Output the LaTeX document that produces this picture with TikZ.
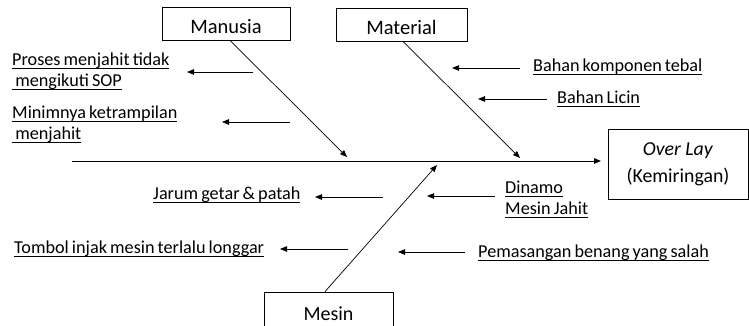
\documentclass[tikz,border=0pt]{standalone}
\usepackage{fontspec}
\setmainfont{Carlito}
\usetikzlibrary{arrows.meta}
\newcommand\ulx[1]{\setbox0=\hbox{#1}\rlap{\rule[-3.4pt]{\wd0}{0.7pt}}\box0}
\newcommand\lbl[1]{\begin{tabular}[t]{@{}l@{}}#1\end{tabular}}
\newcommand\causefont{\fontsize{18.2}{21.5}\selectfont\spaceskip=0.17em\relax}
\begin{document}
\begin{tikzpicture}[x=1pt,y=-1pt,
  catbox/.style={draw,line width=0.8pt,minimum width=#1,minimum height=33pt,inner sep=0pt,
    text height=19pt,text depth=0pt,font=\fontsize{20.5}{22}\selectfont},
  cause/.style={anchor=base west,inner sep=0pt,font=\causefont},
  tip/.style={-{Triangle[length=7pt,width=5.5pt]}},
  bone/.style={line width=0.7pt,tip},
  small/.style={line width=0.8pt,tip}]
\useasboundingbox (0,0) rectangle (749,325);
\clip (0,0) rectangle (749,325);
% category boxes
\node[catbox=128pt] (man) at (226,23.5) {Manusia};
\node[catbox=131pt] (mat) at (401.5,24.5) {Material};
\node[catbox=129pt,minimum height=40pt] (mes) at (328.5,312) {};
\node[anchor=base,inner sep=0pt,font=\fontsize{20}{22}\selectfont] (mest) at (328.5,320) {Mesin};
% effect
\node[draw,line width=0.8pt,minimum width=140pt,minimum height=70pt,inner sep=0pt,align=center,
  font=\fontsize{19.8}{27}\selectfont] (eff) at (678,164) {\raisebox{-2pt}{\begin{tabular}{@{}c@{}}\textit{Over Lay}\\(Kemiringan)\end{tabular}}};
% spine
\coordinate (sp0) at (72,161);
\coordinate (sp1) at (601,161);
\coordinate (tman) at (347,157);
\coordinate (tmat) at (520,158);
\coordinate (tmes) at (437,165);
\draw[line width=0.9pt,tip] (sp0) -- (sp1);
\draw[bone] (man.south -| 230,0) -- (tman);
\draw[bone] (mat.south -| 403,0) -- (tmat);
\draw[bone] (mes.north -| 325,0) -- (tmes);
% causes
\node[cause] (c1) at (12,65) {\lbl{\ulx{Proses menjahit tidak}\\\ulx{\ mengikuti SOP}}};
\node[cause] (c2) at (12,118) {\lbl{\ulx{Minimnya ketrampilan}\\\ulx{\ menjahit}}};
\node[cause] (c3) at (533,71) {\ulx{Bahan komponen tebal}};
\node[cause] (c4) at (557,103) {\ulx{Bahan Licin}};
\node[cause] (c5) at (153,199) {\ulx{Jarum getar \& patah}};
\node[cause] (c6) at (14,253) {\ulx{Tombol injak mesin terlalu longgar}};
\node[cause] (c7) at (505,193) {\lbl{\ulx{Dinamo}\\\ulx{Mesin Jahit}}};
\node[cause] (c8) at (478,257) {\ulx{Pemasangan benang yang salah}};
% cause arrows
\coordinate (a1s) at (253,72); \coordinate (a1e) at (187,72);
\coordinate (a2s) at (290,122); \coordinate (a2e) at (222,122);
\coordinate (a3s) at (520,68); \coordinate (a3e) at (452,68);
\coordinate (a4s) at (547,99); \coordinate (a4e) at (478,99);
\coordinate (a5s) at (383,197); \coordinate (a5e) at (315,197);
\coordinate (a6s) at (348,249); \coordinate (a6e) at (280,249);
\coordinate (a7s) at (495,196); \coordinate (a7e) at (427,196);
\coordinate (a8s) at (465,252); \coordinate (a8e) at (398,252);
\foreach \i in {1,...,8} {\draw[small] (a\i s) -- (a\i e);}
\end{tikzpicture}
\end{document}
